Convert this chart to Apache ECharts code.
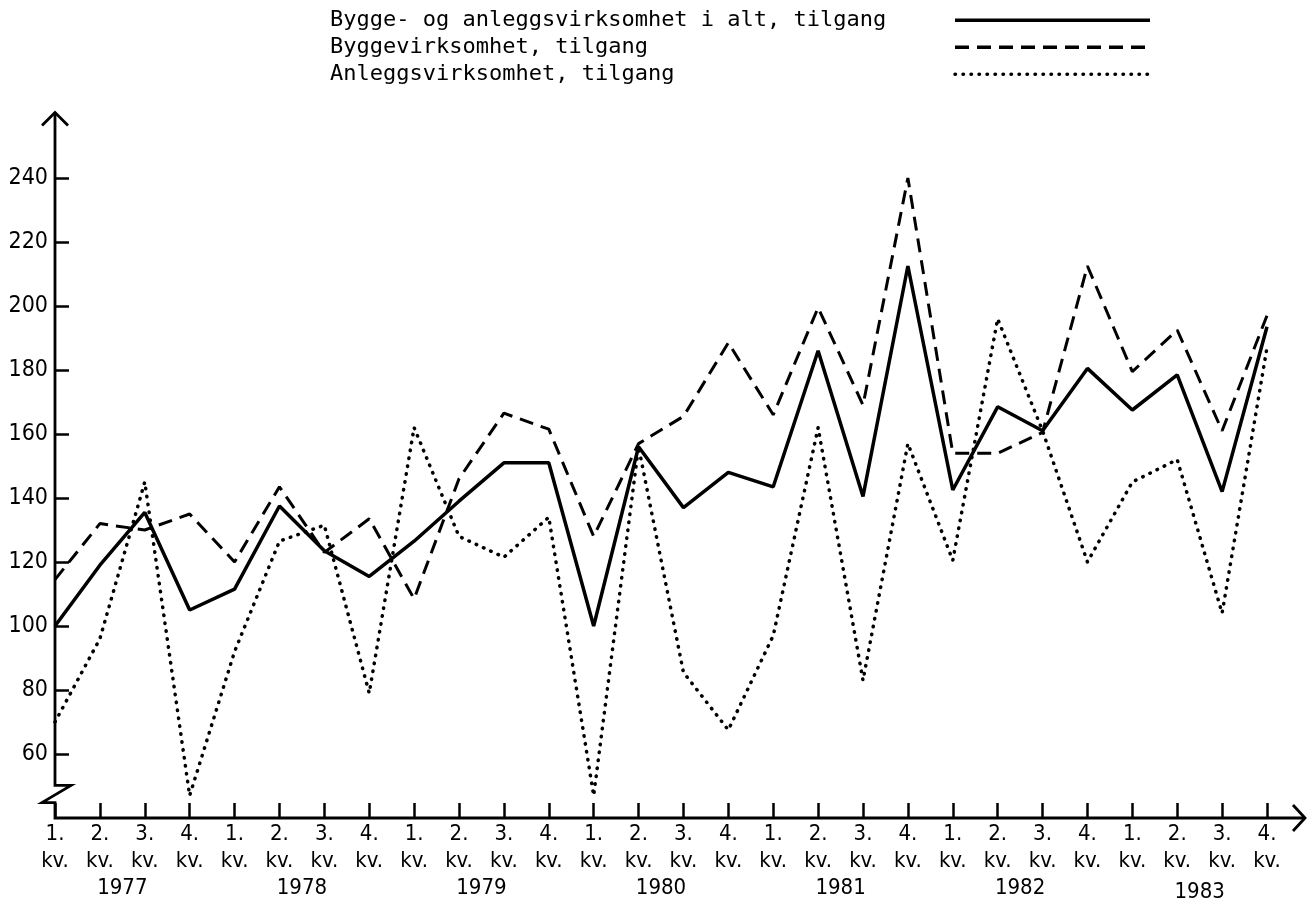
<!DOCTYPE html>
<html><head><meta charset="utf-8">
<script src="https://cdn.jsdelivr.net/npm/echarts@6/dist/echarts.min.js"></script>
<style>html,body{margin:0;padding:0;background:#fff}#c{width:1316px;height:913px}</style>
</head><body><div id="c"></div>
<script>
// ---- data ----
const categories = [
  '1977-1','1977-2','1977-3','1977-4',
  '1978-1','1978-2','1978-3','1978-4',
  '1979-1','1979-2','1979-3','1979-4',
  '1980-1','1980-2','1980-3','1980-4',
  '1981-1','1981-2','1981-3','1981-4',
  '1982-1','1982-2','1982-3','1982-4',
  '1983-1','1983-2','1983-3','1983-4'
];
const quarterLabels = ['1.','2.','3.','4.'];
const years = ['1977','1978','1979','1980','1981','1982','1983'];
const yTickValues = [60,80,100,120,140,160,180,200,220,240];
const seriesNames = [
  'Bygge- og anleggsvirksomhet i alt, tilgang',
  'Byggevirksomhet, tilgang',
  'Anleggsvirksomhet, tilgang'
];
const total = [100,119,135.5,105, 111.5,137.5,123.5,115.5, 126.5,139,151,151, 100,156,137,148, 143.5,186,140.5,212.5, 142.5,168.5,161,180.5, 167.5,178.5,142,193.5];
const bygg  = [114.5,132,130,135, 120,143.5,123,133.5, 108.5,146,166.5,161.5, 128,157,165.5,188.5, 166,199.5,169,240, 154,154,160.5,212.5, 179.5,192.5,161,197];
const anlegg= [70,96,145,47, 92,126.5,131.5,79, 162,128,121.5,134, 47,156,85.5,67.5, 97,162,83,157, 120.5,196,161,120, 145,152,104,187];

(function(){
const mono = "'DejaVu Sans Mono','Liberation Mono',monospace";
const cond = "'DejaVu Sans Condensed','Liberation Sans Narrow','DejaVu Sans',sans-serif";

const chart = echarts.init(document.getElementById('c'), null, {renderer:'canvas'});
const option = {
  animation:false,
  backgroundColor:'#fff',
  grid:{left:55, right:49, top:114, bottom:95},
  legend:{
    orient:'vertical', left:325, top:4, align:'right',
    itemWidth:195, itemHeight:14, itemGap:4.5,
    itemStyle:{opacity:0},
    lineStyle:{width:3.5},
    formatter: name => '{a|' + name + '}',
    textStyle:{fontFamily:mono, fontSize:22, color:'#000', lineHeight:22.5,
      rich:{a:{width:620, align:'left', fontFamily:mono, fontSize:22, color:'#000', lineHeight:22.5}}},
    data:seriesNames
  },
  xAxis:{
    type:'category', data:categories, boundaryGap:false,
    axisLine:{show:false},
    axisTick:{show:true, inside:true, length:15, interval:0, lineStyle:{color:'#000', width:2.5}},
    axisLabel:{
      interval:0, margin:3, fontFamily:cond, fontSize:22, lineHeight:27, color:'#000',
      formatter:(v, i) => quarterLabels[i % 4] + '\nkv.'
    },
    splitLine:{show:false}
  },
  yAxis:{
    type:'value', min:40, max:260, interval:20,
    axisLine:{show:false}, splitLine:{show:false},
    axisTick:{show:true, inside:true, length:14, customValues:yTickValues, lineStyle:{color:'#000', width:2.5}},
    axisLabel:{customValues:yTickValues, fontFamily:cond, fontSize:23, color:'#000', margin:7}
  },
  series:[
    {name:seriesNames[0], type:'line', data:total, symbol:'none', itemStyle:{color:'#000'}, lineStyle:{color:'#000', width:3.5, type:'solid'}},
    {name:seriesNames[1], type:'line', data:bygg, symbol:'none', itemStyle:{color:'#000'}, lineStyle:{color:'#000', width:3, type:[14,8]}},
    {name:seriesNames[2], type:'line', data:anlegg, symbol:'none', itemStyle:{color:'#000'}, lineStyle:{color:'#000', width:3.5, type:[0.5,7.5], cap:'round'}}
  ]
};
chart.setOption(option);

const p = (i, v) => chart.convertToPixel({xAxisIndex:0, yAxisIndex:0}, [categories[i], v]);
const lastI = categories.length - 1;
const pTop = p(0, 260.5), brk = p(0, 50.2), brk2 = p(0, 44.8), org = p(0, 40), pEnd = p(lastI, 40);
const x0 = org[0], yA = org[1], xEnd = pEnd[0] + 38;
const ax = {stroke:'#000', lineWidth:2.8, fill:null, lineJoin:'miter'};
const g = [
  {type:'polyline', shape:{points:[[x0, pTop[1]],[x0, brk[1]],[x0+16, brk[1]],[x0-13, brk2[1]],[x0, brk2[1]],[x0, yA],[xEnd, yA]]}, style:ax},
  {type:'polyline', shape:{points:[[x0-13, pTop[1]+13],[x0, pTop[1]],[x0+13, pTop[1]+13]]}, style:ax},
  {type:'polyline', shape:{points:[[xEnd-12, yA-13],[xEnd, yA],[xEnd-12, yA+13]]}, style:ax}
];
years.forEach((y, k) => {
  const a = p(4*k+1, 40), b = p(4*k+2, 40);
  g.push({type:'text', x:(a[0]+b[0])/2, y:yA + 70 + (k === 6 ? 4 : 0),
    style:{text:y, fontFamily:cond, fontSize:22, fill:'#000', align:'center', verticalAlign:'middle'}});
});
chart.setOption({graphic:g});
})();
</script></body></html>
